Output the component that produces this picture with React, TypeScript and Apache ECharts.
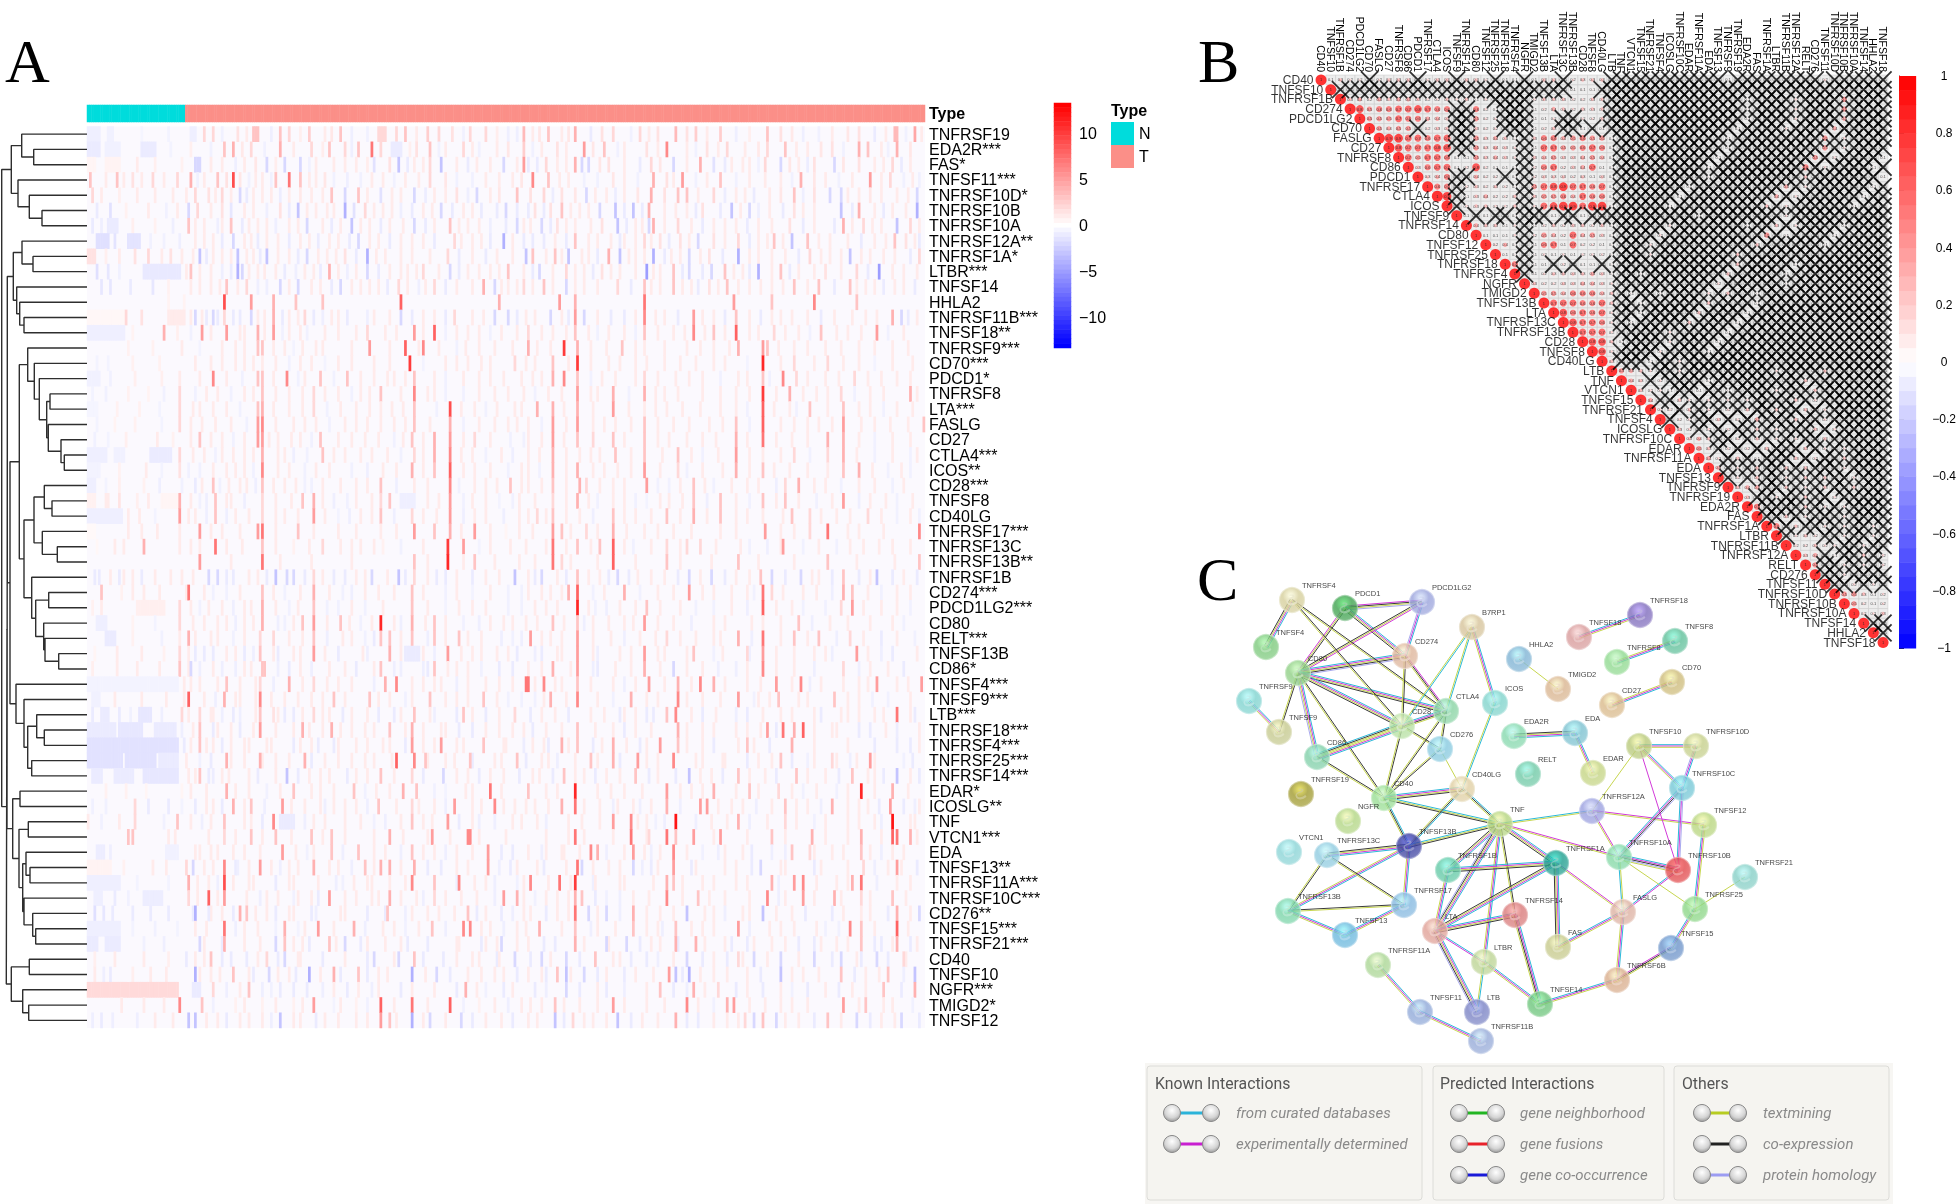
import React, { useEffect, useRef } from "react";
import * as echarts from "echarts";

const geneLabels = ["TNFRSF19","EDA2R***","FAS*","TNFSF11***","TNFRSF10D*","TNFRSF10B","TNFRSF10A","TNFRSF12A**","TNFRSF1A*","LTBR***","TNFSF14","HHLA2","TNFRSF11B***","TNFSF18**","TNFRSF9***","CD70***","PDCD1*","TNFRSF8","LTA***","FASLG","CD27","CTLA4***","ICOS**","CD28***","TNFSF8","CD40LG","TNFRSF17***","TNFRSF13C","TNFRSF13B**","TNFRSF1B","CD274***","PDCD1LG2***","CD80","RELT***","TNFSF13B","CD86*","TNFSF4***","TNFSF9***","LTB***","TNFRSF18***","TNFRSF4***","TNFRSF25***","TNFRSF14***","EDAR*","ICOSLG**","TNF","VTCN1***","EDA","TNFSF13**","TNFRSF11A***","TNFRSF10C***","CD276**","TNFSF15***","TNFRSF21***","CD40","TNFSF10","NGFR***","TMIGD2*","TNFSF12"];
const normalCount = 44;
const tumorCount = 331;

// Visible stripes per heat-map row: "column:value" or "from-to:value".
const heatStripes = [
"0-5:-0.8 9-11:-0.7 24:-0.5 36:-0.6 46-48:-0.8 52:2 56:2 67:1.5 74-76:3 86:3 90:2 99:2.5 106:1 113:3 118:-0.8 130-133:2 138:2 142:3 152:2.5 157:2 163:1.5 171:2 178:2 188:-0.8 195:3.5 199:1 206:3 212:1 218:4 225:-1 230:1.5 235:2 247:2 255:1.5 263:3.5 268:1.5 272:2.5 283:2.5 290:-0.8 304:3 310:1.5 320:-0.8 333:1 345:1.5 352:-1 361-362:3.5 370:4.5 373:1",
"0-5:-1 8-14:-0.7 24-30:-1 37:-0.6 61:3 65:4 73:2 86:4 100:2 108:3 115:2 121:3 127:7 131:2 136-140:-1 147:1.5 153:3 160:1 168:2 175:-0.7 183:1 195:2.5 203:1 210:1.5 222:5 231:3 240:1 250:1.5 259:6 268:1 277:1.5 286:2 294:1 304:2 312:3 322:1 333:1.5 345:4 349:3 355:1 362:4",
"0-3:0.5 8-14:0.6 22:1 30:0.8 48-50:-2 60:1 70:1 80:-2 88:-2 95:-2 102:1 110:1 120:1 128:-1.5 135:1.5 139:-3 146:1 153:2 158:-3 165:1 174:1 186:-2 192:1 195:5 197:-1 205:2 210:1 218:4 221:-2 224:-2 233:1.5 240:1 252:2 262:-2 268:1 274:4 280:-1.5 288:1 296:1 303:2 310:-2 318:1 325:1.5 334:-2 345:1.5 352:1 360:2 368:1",
"1:3 8:1 13:3 16:1 20:1.5 24:1 29:2 34:1 40:2 46:4 52:1 58:3 62:1.5 65:9 72:-0.7 78:1 84:3 90:7 95:3 102:1 110:-0.7 122:-0.7 132:1 142:1 153:2 165:-0.7 178:1 190:1 199:6 206:3 215:1 228:-0.7 240:1 253:4 259:1.5 266:5 272:-0.7 283:3 296:1 310:1 319:4 330:1 342:1 350:5 359:2 365:-0.7 372:-0.7",
"2:2 6:1 14:0.8 22:1 30:1 38:1 44:1 48:2 54:1.5 60:2 64:1 68:-2 74:1 82:1 90:1 100:1 109:3 115:-2 121:3 131:-1.5 140:1 146:-2 155:1 165:1.5 174:-2 180:1 192:3 198:1.5 204:2 212:1.5 223:-2 232:1 240:1 252:4 258:1.5 264:3 268:3 280:2 290:1 298:-1 305:1 316:3 325:1.5 332:-2 337:-2 345:1 355:1 362:1 371:-2",
"4:-1 10:-1.5 17:0.7 27:1 35:-0.7 45:-2 49:2 55:1 60:1.5 70:1 80:-0.8 86:1.5 94:-3 102:1 110:1 115:-4 124:2 132:1 140:-0.8 150:1 158:-2 168:1 176:-1 187:-2 192:-1 200:1.5 207:1.5 212:3 220:1 229:-2 236:-3 244:-3 251:4 258:1 268:1 275:1.5 288:-3 296:-2 305:1 316:1.5 325:1 337:-3 345:4 352:1 360:1 371:-4",
"2:-1 6:-0.8 9-13:-1 20:0.8 30:0.7 38:-0.8 45:3 52:1 58:-0.8 64:3 72:1 80:1 90:1 98:-2 105:1 118:-3 126:1 135:1 146:-2 155:1 162:3 170:1 180:-0.8 192:-2 198:1 203:-2 210:1.5 218:1 230:1.5 237:-3 245:1 251:-2 253:4 264:2 270:1 280:1 290:1 300:1 314:1.5 325:1 338:4 347:2 355:1 362:-3 368:2",
"4-9:-1.6 12:-1.4 18-23:-1.4 28:-0.7 34:-0.7 41:-0.8 48:1 56:1 65:-2 70:1 76:-1 85:1 95:1 103:-1 112:1 121:-2 130:1 140:1 150:1 164:2 172:1 180:-1 186:-4 190:1 195:-1 204:-1 218:3 224:1 234:1 240:1 249:2 256:1.5 265:1.5 273:-2 280:1.5 291:2 300:1 307:3 315:-3 322:3 332:1 346:-1 352:1 361:3 366:1.5 372:-1",
"0-3:1.5 8:0.8 14:1 21:1.5 27:2 33:1 37:1.5 42:1 50:-3 56:1 60:1 67:-3 74:1 80:-3 90:1 98:-2 107:1 115:1.5 125:-4 133:1 145:1 161:2 172:1 183:1 196:-3 199:3 209:3 215:-3 224:1 233:4 238:-3 245:1 253:-4 261:1 269:-2 278:1.5 291:-4 300:1 312:1 323:2 332:1 341:-3 350:1 361:1 372:2",
"4:-1.6 9:-1.2 14:-0.7 25-41:-1.1 46:3 55:1 60:-0.8 67:-4 69:-2 76:1 84:1 93:-0.8 101:1 108:4 116:-0.8 125:-2 135:1 143:1 150:2 162:-2 170:1 180:1 188:3 195:1 202:-2 214:2 222:1 230:1.5 238:1 250:-5 256:1 262:3 269:-2 279:-2 285:3 293:1 300:-4 310:3 318:1 330:1.5 344:2 354:-5 365:1",
"6:-1.2 10:-1.2 19:-1 29:-1.2 36:0.7 46:1 55:1 62:3 71:2 80:-0.8 86:-2 94:-2 104:1 113:-2 122:1 130:1 139:2 148:-0.8 155:2 165:1 177:4 182:-2 188:1 195:2 204:3 214:-2 222:1 237:2 249:3 256:1 262:3 270:1 278:1.5 286:3 296:1 306:1 316:3 327:3 341:3 348:1 356:-1 365:1",
"36:0.6 43:0.6 61:9 73:5 83:4 93:3 105:3 140:8 184:4 211:5 218:4 249:7 289:5 306:3 325:6 344:3",
"0-16:0.4 17:2 24:1.5 36-43:1 48:-2 53:-1 56:-2 61:2 65:-1 73:-2 79:1 83:4 90:1 97:2 105:-0.8 112:1 125:-0.8 140:-2 150:1 164:2 172:1 182:-2 188:-2 196:1 207:-2 212:1 218:5 222:-2 234:-1 249:6 258:1 271:5 280:1 290:3 301:-1 310:1 322:1 334:1 348:1 360:4 364:-2 371:1",
"0-16:-0.8 20:0.6 34:4 40:0.8 51:5 62:5 70:1 76:4 83:5 90:1 98:-0.7 112:1 125:2 133:1 146:5 155:8 165:1 175:1 185:1 197:2 208:1 218:3 228:-0.7 240:1 249:3 262:1 271:6 280:3 290:8 300:1 307:2 318:1 328:3 340:1 353:5 365:1",
"18:0.7 29:0.7 42:1 60:1 70:1 76:3 78:3 88:1 96:1 105:1 126:5 142:8 150:6 157:1 169:1 182:1 197:4 207:1 213:10 219:4 239:3 249:1 268:1 280:1 291:4 302:5 304:3 316:1 330:1 345:1 360:1",
"4:-0.6 9:-0.6 20:0.7 32:0.7 48:1 60:1 70:1 78:1 90:-0.7 100:1 112:1 128:1 144:10 160:1 170:1 180:1 191:2 200:1 208:3 219:10 238:1 250:1 265:1 280:1 302:11 316:2 331:2 345:1 360:1",
"0-5:-0.7 10:-0.7 21:0.8 33:0.8 41:1 56:6 62:1 76:3 78:3 89:6 94:-0.7 104:3 116:3 128:1 137:1 146:3 155:1 168:1 180:1 194:1 203:1 208:4 213:6 219:3 230:1 249:2 263:1 275:1 291:1 302:3 311:6 317:2 330:1 343:2 355:1 368:1",
"2:-0.6 8:-0.7 18:0.7 27:0.6 34:-0.7 41:2 48:-0.7 58:1 70:1 78:3 90:1 101:2 112:1 122:1 131:3 146:6 155:1 168:-0.7 182:1 195:1 206:1 219:5 228:1 235:4 249:4 258:1 275:1 290:1 302:10 314:4 326:1 337:2 350:1 368:4",
"0-4:-0.5 13:0.7 23:0.7 32:-0.6 41:2 50:1 62:1 76:3 78:4 90:1 101:2 113:1 126:1 136:1 146:3 162:9 173:1 183:1 191:1 201:4 208:4 219:4 235:5 249:1 259:1 274:1 290:1 302:8 314:1 323:3 338:3 350:1 362:1",
"4:-0.6 12:0.6 21:0.7 33:-0.6 41:2 51:1 64:1 76:5 78:6 92:1 102:1 115:1 125:1 137:1 146:3 162:4 175:1 188:1 197:1 208:5 219:5 226:1 236:1 249:3 262:1 278:1 290:3 302:8 316:1 327:1 338:5 352:1 367:1 374:3",
"3:-0.7 9:-0.6 17:0.8 31:1 38:0.7 50:3 60:1 70:1 76:5 78:5 85:1 95:1 104:3 112:1 124:1 137:-0.7 145:3 155:4 162:5 173:2 189:-0.7 197:1 208:5 219:3 226:2 235:3 249:3 260:1 275:1 290:4 302:7 315:1 331:4 338:4 352:-0.7 368:1",
"0-8:-0.8 12-16:-0.7 28-37:-1 41:2 52:1 60:1 70:1 78:4 85:1 92:-0.8 105:3 115:1 127:1 140:-0.7 146:2 155:4 162:6 172:1 190:-0.8 197:1 208:4 220:1 229:1 236:3 249:3 264:3 275:-0.7 290:5 302:1 316:2 331:2 338:4 352:-0.7 368:-0.7",
"0-5:-0.6 14:0.7 26:1 33:-0.6 41:1.5 50:-0.7 62:1 70:1 78:6 90:1 102:1 118:-0.7 132:1 145:4 155:3 162:8 173:1 188:-0.7 197:1 208:4 219:4 226:1 237:1 249:5 264:2 275:1 290:4 302:3 314:1 338:3 345:4 358:-0.7 368:-0.7",
"0-3:-0.8 8:-0.6 14:0.8 25:0.7 32:-0.8 42:-0.7 48:-1 56:3 63:1 71:1 78:3 88:1 97:-0.7 105:1 120:1 131:3 146:1 162:6 173:1 183:1 189:3 197:1 208:3 220:4 223:2 235:1 250:5 260:-0.7 271:3 280:-0.7 295:1 312:2 318:4 330:1 345:1 360:-0.7",
"0-3:0.7 8-9:1 14:1.4 22:0.8 27:1 33-40:0.5 41:4 50:-0.7 57:3 64:1 78:2 96:3 101:4 110:-0.8 120:1 131:2 135:3 140-146:-0.8 162:5 172:1 184:-0.6 193:1 208:2 219:4 228:-0.7 240:1 250:-0.6 260:1 271:3 283:3 302:3 312:3 326:-0.7 338:5 350:1 362:-0.7",
"0-15:-0.8 18:1 23:1 30:-0.6 41:5 48:1 57:3 66:1 78:2 88:1 101:5 112:-0.6 122:1 131:3 145:2 162:5 173:1 186:-0.8 193:1 201:2 208:3 220:1 235:3 245:1 259:3 271:4 283:3 295:1 315:3 323:2 335:1 349:2 362:-0.7 372:-0.7",
"0-3:0.3 18:1 24:1 31:1 41:1 50:5 60:1 76:5 78:7 94:3 101:1 112:1 131:1 146:5 155:3 162:4 173:5 187:0.5 199:1 208:5 212:3 223:2 235:4 249:1 262:1 283:1 303:5 323:2 331:7 340:1 372:6",
"4:0.4 12:1 16:1 25:4 41:1 50:1 57:7 62:1 78:3 92:0.7 105:2 113:1 122:1 132:0.7 140:-0.7 161:10 168:5 175:-0.6 189:1 196:1 208:7 219:3 229:3 235:8 244:-0.7 259:2 268:2 274:2 296:-0.7 304:-0.8 311:5 320:-0.7 335:-0.7 347:1 360:1",
"50:5 78:7 146:3 161:11 173:3 193:1 208:7 212:2 235:8 259:3 291:3 331:3 372:3",
"3:-1 5:-1 10:1 16:1 24:-1 30:1 37:1 47:1 54:-2 58:-2 65:-1 72:1 80:-1 84:-3 89:-2 92:-2 101:2 110:-1 120:1 127:-2 134:1 139:-3 146:2 156:-1 165:1 178:1 191:-3 197:1 203:-2 210:1 219:3 229:1 237:-2 246:1 258:1 269:-2 279:-2 290:1 301:3 306:-2 319:-2 327:1 338:3 345:-1 353:-3 365:1",
"6:3 15:0.7 20:1 25:1 32:1 45:7 52:1 62:-0.7 78:3 88:-0.7 101:4 114:-0.7 124:1 137:1 145:3 160:-0.7 172:-0.6 188:-0.7 197:1 207:1 215:4 219:8 226:-0.7 240:4 255:1 269:5 280:1 295:1 302:7 306:2 320:1 338:4 342:3 355:-0.7 368:1",
"2:0.7 6:1 22-34:0.8 41:2 50:-0.7 60:1 70:1 78:4 90:-0.7 101:3 112:-0.7 124:-0.7 145:3 160:-0.6 172:1 188:-0.7 200:1 210:1 219:11 227:-0.7 238:1 250:3 265:1 280:-0.7 302:8 315:1 330:-0.7 337:2 342:5 355:1 368:-0.7",
"4-8:-0.8 20:0.6 30:-0.6 41:2 52:1 62:1 70:1 78:4 88:-0.7 96:3 101:5 113:3 122:-0.7 131:11 137:1 145:4 155:3 168:-0.7 180:1 190:1 201:1 208:3 219:3 226:1 240:1 249:5 262:1 280:1 302:1 318:3 340:1 365:-0.7",
"8-12:-1 20:0.7 33:-0.7 41:1 45:4 58:1 65:-0.7 77:2 83:2 90:1 101:3 114:1 124:-0.7 131:3 135:3 145:3 155:3 166:3 176:1 190:-0.7 198:5 207:1 219:5 234:1 247:1 259:2 265:1 280:1 291:4 302:7 316:3 327:3 341:2 355:-1 370:-0.7",
"3:0.5 13:1 24:1 34:0.7 41:2 48:-1 52:-1 62:1 70:-1 77:3 85:-1 92:1 101:5 112:-1 123:1 135:4 142-148:-1 161:5 172:1 183:1 192:-1 200:-0.8 210:1 219:5 228:-0.8 238:1 249:5 258:1 271:3 280:-0.7 295:2 302:5 316:1 330:1 344:5 355:-0.8 371:1",
"2:0.8 13:1 22:1 32:1 41:3 46:-2 50:-0.8 60:-0.8 70:1 78:3 79:3 90:-1 100:-0.8 115:1 131:3 137:-0.8 150:-0.8 155:3 165:1 176:-0.7 190:-1 197:1 208:4 219:5 228:-1 236:1 249:4 262:-2 275:1 290:-0.8 302:6 316:1 338:2 350:1 365:-1",
"0-40:-0.6 43:1 50:1 62:3 68:1 77:2 90:4 101:2 112:1 133:4 138:6 150:1 158:1 170:1 184:1 196:7 197:7 204:6 212:1 219:3 235:1 251:5 264:4 274:6 280:4 295:1 308:5 319:6 328:1 345:1 353:5 362:1 373:5",
"2-5:-0.7 12:1 24:1 35:1 45:8 52:1 61:4 68:1 77:6 88:1 100:1 110:3 126:3 135:1 145:1 153:3 165:1 177:3 188:-0.7 200:-0.7 207:4 214:1 219:6 228:1 243:4 255:1 264:6 275:1 291:5 300:1 309:3 318:1 334:3 345:1 358:-0.7",
"2:-1 6-9:-1 14:-1 19:-0.7 23-28:-1.2 33:-0.8 42:2 50:2 55:1 60:-0.8 68:-0.8 77:3 83:1.5 88:-1 96:1 101:2 108:1 118:1 130:-1 137:-1 146:3 155:-0.8 168:3 178:-1 191:2 203:1 215:-1 225:1 240:1 250:-1 259:3 263:6 275:-1 290:-0.8 310:1 325:1 340:1 352:1 362:7 368:1",
"0-12:-1 14-24:-1.2 30-39:-1 42:-0.8 50:3 58:1 68:-1 77:5 84:1 92:1 96:4 105:1 109:4 118:1 128:1 135:3 145:4 150:1 160:1 172:-1 184:1 195:1 205:1 219:3 235:1 245:1 264:4 275:1 295:1 304:5 311:7 316:4 320:8 335:1 350:-1 362:-0.9",
"0-40:-1.5 43:-1 50:3 56:1 64:1 72:1 82:1 95:1 103:-1 112:1 120:1 135:1 145:5 150:1 158:5 168:1 177:3 187:1 195:-0.9 204:1 212:4 219:3 230:1 235:4 247:-1 256:5 264:3 275:1 295:3 305:-1 315:4 325:1 340:1 352:-1 362:-1 372:1",
"0-15:-1.5 17-30:-1.5 32-40:-1 50:-0.7 62:4 70:1 77:4 84:1 97:4 106:1 118:1 128:1 138:8 146:6 151:3 160:1 171:3 182:1 192:3 203:1 210:-0.8 225:3 235:4 246:5 255:1 262:6 272:1 285:1 300:1 310:3 322:-0.7 333:2 341:-0.8 350:5 365:-0.7",
"2-6:-1 12-20:-1 25-40:-1.2 48:1 50:3 56:-0.9 63:1 72:1 89:-3 99:1 108:1 120:1 131:3 145:2 159:-2 170:1 180:1 193:-1 202:1 213:3 222:1 232:1 245:3 255:1 269:-3 279:1 291:3 303:1 317:3 330:1 342:3 352:1 362:-3 372:-1",
"8:0.7 17:0.7 26:0.5 42:0.5 62:4 72:1 80:-0.7 92:3 104:1 119:3 129:1 141:4 147:3 160:-0.6 172:1 180:7 197:3 205:1 218:11 228:1 240:1 259:5 270:1 280:4 296:3 309:2 320:-0.7 335:-0.7 346:11 360:4",
"2:-0.7 8:-0.7 21:2 27:-1 36:-1 42:-0.6 48:-1 56:1 65:4 73:3 87:5 97:1 104:1 110:1 120:1 130:3 145:2 155:1 164:5 172:1 182:6 191:1 200:1 212:4 218:7 229:1 237:1 247:-0.8 259:4 274:5 277:5 288:1 299:-0.8 312:3 322:1 333:4 345:1 354:-1 359:5 365:-1 372:1",
"0:1 6:-0.7 14:1 21:2 34:-0.7 40:3 46:1 61:3 70:1 83:6 86-92:-1 101:1 115:1 128:-0.7 145:3 154:1 161:5 175:-0.8 190:1 201:1 215:1 235:5 243:6 254:-0.7 263:12 272:-0.8 291:4 312:2 325:-0.7 340:1 352:1 360:12 368:1",
"18:3 20:3 36:1 39:1 61:2 73:3 84:3 100:3 109:3 135:4 154:5 170:6 171:6 218:7 243:7 251:2 259:7 263:3 271:5 283:5 306:3 324:4 346:4 360:8 362:7 368:4",
"4-7:-0.9 10:-0.8 35-40:-0.7 48:1 55:1 65:1 70:1 77:1 87:5 93:1 98:-0.7 109:3 121:3 133:1 145:3 155:1 165:1 179:5 190:-1 197:1 205:1 213:1 225:6 228:4 244:5 252:-0.8 262:6 275:-0.7 285:1 297:-1 306:-0.8 315:3 323:2 333:1 346:3 355:-0.8 365:1",
"0-10:0.6 16:0.7 29:1 35:1 44:2 47:-2 52:1 61:6 67:-0.8 77:5 86:-0.8 94:1 101:4 112:1 124:3 131:4 135:4 146:4 152:-1 165:1 179:5 189:-1 201:1 219:7 221:-2 233:1 244:-2 252:-1 262:5 272:1 290:1 301:-2 312:1 328:1 347:2 358:1 362:5 371:-1",
"0-14:-0.8 22:-0.6 36:-0.6 45:4 54:1 61:9 72:1 90:1 103:1 114:-0.7 125:1 135:1 145:6 155:3 166:6 178:1 192:-0.7 198:6 211:7 218:10 227:1 240:1 259:4 262:3 275:1 290:1 306:4 316:5 320:6 335:1 342:4 346:7 362:1",
"3-6:-0.8 12:-1 18:-0.7 25-33:-0.9 45:2 54:8 61:5 71:1 80:1 92:-0.7 100:1 108:5 120:1 130:1 135:4 147:1 155:2 167:1 186:5 192:4 200:-0.7 210:1 218:4 221:3 232:-0.7 244:1 259:6 273:3 285:1 304:6 312:1 320:5 334:4 346:2 360:3",
"3:-1.6 7:-1.2 11:-1 20:-1 28:-1 36:-1 48:-4 54:-1 60:1 68:4 71:3 80:1 90:1 100:-1 113:1 125:-1 134:3 145:1 157:1 170:3 174:-1 185:-1 198:1 210:1 218:7 224:-2 232:-2 244:4 256:1 268:-3 280:1 293:1 302:-3 315:1 333:-1 346:1 362:4 372:-2",
"0-14:-0.8 20:-0.6 30:-0.7 40:-0.6 48:1 61:7 70:1 88:4 94:-0.6 103:5 119:4 132:1 142:-0.7 154:3 168:6 171:6 180:1 192:1 202:4 218:3 228:1 244:3 255:1 263:3 275:1 291:5 305:1 316:1 330:-0.7 341:6 346:3 362:8",
"0-4:-1 8-14:-1 25:-0.7 34:-0.8 50:-2 61:4 70:1 84:-2 88:3 96:1 108:3 115:-2 125:1 140:1 152:-1 165:1 178:1 185:-2 192:1 204:-1 218:4 232:-2 241:-2 252:1 263:4 272:4 288:-1 298:1 312:1 325:-1 335:1 346:3 355:-1 362:4 368:-1",
"3:0.8 12:1 25:1 36:0.8 48:1 55:3 64:-1 71:-1 80:2 88:-2 95:1 105:-1 115:1 128:-2 139:-2 146:3 159:-1 172:1 184:1 191:-2 203:-2 214:-2 227:3 235:1 243:-1 255:-0.8 268:-2 280:1 291:2 298:-2 310:-2 325:-2 337:-2 346:-1 353:-2 365:2",
"3:1 7:-0.8 10:-1 20:0.8 28:1 35:1 48:-4 55:1 65:3 72:1 81:-2 90:1 99:-4 110:4 121:3 130:1 145:-4 156:-2 170:1 182:1 192:-1 203:1 210:3 214:-3 222:-2 232:1 245:1 260:5 263:-3 269:-4 280:1 295:1 310:-3 320:1 337:3 348:1 358:3 370:-3",
"0-40:1.9 47-50:-1 56:2 62:-0.8 72:3 82:-0.7 86:-1 98:-1 110:1 116:-1 130:1 140:-1 155:1 169:4 178:-0.7 190:1 200:-1 214:-2 228:1 240:-0.8 256:3 262:-1 271:4 282:2 295:1 302:-1 315:-0.7 330:1 342:1 356:3 370:4",
"15:1 25:1 34:1 41:6 51:3 66:0.7 78:0.7 92:0.7 101:5 110:-0.6 120:0.7 131:8 145:7 162:8 175:0.7 188:-0.8 198:1 209:3 220:1 235:5 250:1 268:6 280:-0.7 286:4 289:5 303:1 315:1 338:5 348:3 360:1",
"2:-0.8 6:-1 11:-0.8 22:-0.8 30:1 38:1 45:-3 48:-3 58:1 68:1 78:1 86:-3 95:1 106:1 120:1 131:5 135:3 145:-4 153:-2 167:-2 178:1 190:-1 197:1 209:-3 217:2 226:1 237:-3 248:1 263:4 268:-1 280:1 294:2 298:-2 302:3 308:-2 318:1 331:3 344:-2 355:1 364:-2 372:-1"
];
// Fainter wash between the stripes, one short list per row, estimated by eye.
const heatWash = [
"48:0.9 60:-0.7 71:1 82:-0.8 95:0.8 109:1.2 125:-0.7 147:1 168:-0.7 183:0.9 192:-0.8 202:1.2 215:1.2 243:-0.7 251:1 277:1 296:0.8 315:1.1 327:-0.7 340:1.2 357:1 366:-0.7",
"46:0.8 55:-0.7 69:1.1 79:-0.7 92:1 105:0.9 118:-0.8 144:0.8 157:-0.7 172:1 188:1.2 199:-0.7 214:1 226:1.2 237:-0.7 255:1 272:-0.7 282:1 300:1.1 317:1 328:1.2 338:-0.7 358:-0.7 368:1.2",
"42:0.7 55:1 66:-0.8 75:1.2 84:0.9 99:-0.7 115:1 125:0.9 143:-1 150:1 170:-1 180:1 201:-1 214:1 229:1.2 247:-1 256:1.2 285:-1 293:1 300:-0.7 314:1.2 322:-0.9 338:1.2 356:1 364:-1",
"49:-0.7 68:1.2 75:1 82:-0.7 99:1 106:1.2 116:-0.8 127:1 137:-0.7 148:1 160:1.2 172:-0.7 184:1 194:1.2 211:1 222:-0.7 235:1.2 246:-0.7 262:1 277:1 290:-0.7 303:1 315:-0.7 325:1.2 336:-0.7 355:1 369:1",
"57:1 71:-1 78:1 86:-0.9 95:1.1 105:1 125:1 136:1 151:-0.9 160:1 170:-0.8 184:1.2 208:-0.9 218:1.2 227:1 236:-0.9 246:1.2 273:1 285:-0.9 294:1 310:1.2 320:-0.8 340:1 350:1.2 367:1",
"40:1 64:-1.2 74:1 90:-1 98:1 107:1 119:-1.5 128:1 136:1 145:-1 154:1 163:-1 172:1 183:-1 197:-1 204:-1 216:1 224:1 240:-1 248:-1 263:1 272:-1 283:-1 292:1 300:-0.8 311:-1 320:1 342:-1 356:-1 366:1",
"48:1 60:1 69:-1 76:1 84:-0.8 94:1 109:-1 113:1 122:1 131:-1 141:1 151:-1 166:1 175:1 187:-1 195:1 207:-1 214:1 225:1 241:-1 248:1 258:1 275:-1 285:1 295:-1 306:1 320:-1 334:-1 342:1 351:1 372:1",
"52:1 60:-1 73:1 80:1 90:-1 99:1 108:1 117:-1 126:1 135:-1 145:1 155:-1 167:1 176:1 199:-1 209:1 214:-1 228:1 238:-1 245:1 252:1 260:-1 269:1 285:1 296:-1 304:1 311:1 327:1 340:1 357:1 370:1",
"47:1 53:-1 64:1 71:1 77:-1 85:1 94:-1 103:1 111:1 120:-1 129:1 140:1 153:1 166:-1 178:-1 190:1 205:1 212:1 221:1 228:-1 242:1 249:1 258:-1 265:1 274:1 284:-1 296:1 306:1 318:-1 328:1 337:1 346:1 356:1 368:-1",
"44:1 50:1 64:-1 72:1 79:1 88:-1 97:1 104:-1 112:1 120:1 130:-1 140:1 147:1 157:1 166:-1 175:1 184:1 199:-1 208:1 218:1 226:-1 234:1 245:1 253:1 266:-1 275:-1 289:1 296:-1 306:1 314:-1 325:1 337:1 349:-1 360:1 371:1",
"50:1 59:1 67:1 76:-0.8 90:1 100:1 109:-1 118:1 126:1 134:-1 143:1 151:1 160:-1 172:1 185:1 192:1 199:1 208:1 218:1 228:1 243:-1 252:1 266:1 273:-1 282:1 291:1 301:1 311:1 322:1 334:-1 344:1 352:1 361:1 370:-1",
"",
"46:1 51:1 58:-1 68:-1 76:1 87:-1 94:1 101:-1 109:1 116:-1 128:1 135:1 145:-1 155:1 160:-1 177:1 192:-1 200:1 215:-1 228:1 240:-1 245:1 254:1 264:-1 275:1 285:-1 296:1 306:1 315:1 328:-1 342:1 353:1 367:-1",
"46:-0.7 55:1 68:1 79:1 87:-0.7 95:1 106:1 120:1 138:1 150:1 160:-0.7 170:1 180:-0.7 192:1 203:1 214:1 224:1 233:1 245:-0.7 255:1 267:1 276:1 285:1 296:1 312:1 323:-0.7 335:1 346:1 358:-0.7",
"50:-0.6 66:1 83:1 92:-0.6 102:1 118:1 135:1 148:1 165:-0.7 175:1 190:1 201:1 225:1 232:1 245:1 258:1 274:1 287:1 309:1 322:1 337:1 352:1 367:1",
"55:1 66:1 74:1 84:1 95:1 106:-0.6 118:1 135:1 150:-0.6 165:1 176:1 196:1 215:1 225:1 233:1 245:1 258:1 272:1 285:1 295:-0.6 310:1 325:1 338:1 352:-0.6 369:1",
"50:1 69:-0.7 83:1 97:1 110:-0.7 122:1 134:1 142:1 160:-0.7 175:1 186:1 199:1 225:-0.7 236:1 245:1 255:1 269:1 283:-0.7 295:1 305:-0.7 322:1 336:1 349:1 362:1",
"53:1 64:-0.7 74:1 84:1 96:1 106:1 118:-0.7 126:1 140:1 152:1 160:-0.7 175:1 188:1 200:-0.7 212:1 225:1 242:-0.7 254:1 264:1 283:1 296:1 308:1 320:1 331:1 343:-0.7 356:1 371:1",
"47:1 56:1 68:-0.7 83:1 96:1 107:-0.7 120:1 131:1 141:1 156:-0.7 167:1 178:-0.7 194:1 213:1 226:1 242:1 254:1 266:1 283:1 295:-0.7 307:1 317:-0.7 331:1 345:1 356:-0.7 369:1",
"46:1 57:1 71:-0.7 84:1 97:1 108:-0.7 120:1 131:1 142:1 153:1 168:-0.7 182:1 192:1 203:-0.7 214:1 231:1 243:1 255:1 269:1 284:1 296:-0.7 310:1 322:1 333:1 346:1 359:1",
"46:1 55:1 65:-0.7 81:1 91:1 100:-0.7 118:1 130:1 141:1 150:1 168:1 180:1 195:-0.7 203:1 213:1 240:1 255:1 268:1 281:1 295:1 308:1 322:1 345:1 360:1",
"47:1 57:-0.7 65:1 74:1 88:1 98:-0.7 110:1 122:1 134:1 150:1 167:1 178:-0.7 185:1 202:1 214:1 225:1 243:1 257:1 270:1 282:1 296:1 310:1 323:-0.7 344:1 360:1 371:1",
"45:-0.7 56:1 66:1 74:-0.7 85:1 97:-0.7 108:1 125:-0.8 138:1 150:1 168:1 180:1 194:1 202:-0.7 214:1 231:1 243:1 256:1 268:-0.7 284:1 296:1 307:1 322:1 331:1 351:1 364:1",
"51:1 59:-0.7 68:1 75:-0.8 83:1 93:1 100:-0.7 113:1 125:1 138:-0.8 152:1 166:-0.7 178:1 194:1 203:1 214:1 229:1 240:1 255:-0.7 265:1 276:1 288:1 300:1 308:-0.8 325:1 337:-0.7 352:1 365:1",
"46:1 53:-0.8 62:1 70:-0.8 84:1 91:1 105:1 116:-0.7 127:1 152:1 157:1 168:-0.7 178:1 190:-0.7 200:1 214:1 224:1 235:1 245:-0.7 256:1 266:1 277:-0.8 290:1 296:-0.7 308:1 318:1 333:1 345:-0.8 357:1 369:1",
"45:1 53:-0.8 62:-0.8 72:1 84:1 94:1 106:1 117:-0.8 127:1 137:-0.8 150:1 156:1 168:-0.8 178:1 197:1 205:1 214:1 226:-0.8 240:1 252:1 265:1 277:1 290:1 302:1 311:1 328:1 341:1 355:1 368:1",
"55:1 68:1 84:1 120:1 138:1 167:1 180:1 193:1 216:1 228:1 241:1 255:1 270:1 290:1 310:1 316:1 345:1 356:1",
"46:1 69:1 84:1 99:1 118:1 128:1 150:1 180:1 205:1 214:1 225:1 240:1 252:1 265:1 281:1 292:1 310:1 327:1 341:1 354:1 368:1",
"64:1 86:1 100:1 118:1 152:1 168:1 182:1 200:1 216:1 228:1 245:1 265:1 279:1 300:1 316:1 344:1 361:1",
"14:-1 20:1 42:1 62:-1 76:1 97:-1 105:1 115:-1 124:1 142:-1 152:1 160:-1 172:-1 184:1 200:-1 214:-1 224:1 233:-1 242:-1 252:1 264:-1 274:1 285:-1 296:1 312:-1 324:1 333:-1 350:1 360:-1 371:-1",
"44:1 56:-0.7 68:1 83:1 95:1 108:1 118:-0.8 130:1 150:1 165:1 180:1 194:-0.7 203:1 212:1 231:1 247:-0.7 262:1 275:1 288:1 298:-0.7 311:1 326:1 333:-0.8 349:1 362:1",
"46:1 54:1 65:-0.8 73:1 84:1 94:1 107:-0.7 118:1 132:1 152:1 166:1 178:1 194:-0.7 205:1 224:1 232:-0.8 245:1 256:1 272:-0.7 288:1 295:-0.8 308:1 320:-0.7 347:1 362:1",
"47:1 58:1 66:-0.8 74:1 85:-0.8 92:1 107:1 117:1 127:1 140:-0.8 151:1 160:1 175:-0.8 186:1 196:1 213:1 222:-0.8 233:1 244:1 255:1 270:-0.8 285:1 297:1 310:1 324:-0.8 332:1 350:1 360:1",
"48:1 55:1 70:1 96:1 107:-0.8 118:1 128:-1 140:1 152:-0.8 160:1 170:1 185:-0.8 194:-0.8 203:1 212:1 226:1 240:-0.8 254:1 272:1 283:1 297:-0.8 310:1 322:1 335:-0.8 347:1 362:1",
"45:1 56:-1 66:1 74:-0.8 83:1 95:1 106:1 125:-0.8 140:1 150:1 155:-0.8 167:1 176:1 188:1 203:-1 212:1 226:1 243:1 255:1 268:1 284:1 296:-0.8 308:1 325:1 333:-0.8 349:1 360:-1",
"45:1 56:1 66:-0.8 73:1 85:-0.8 95:1 108:1 120:-1 128:1 140:-0.8 152:-1 161:1 170:1 184:-1 203:1 216:1 226:-0.8 243:1 256:1 268:1 282:-0.8 295:1 308:1 325:-0.8 345:-0.8 358:1",
"46:1 58:1 75:1 83:-0.8 96:1 107:1 118:1 128:-0.8 145:1 155:1 165:-0.8 178:1 190:1 200:1 209:1 225:1 240:-0.8 245:1 258:1 270:1 285:1 301:1 315:1 323:-0.8 338:1 349:1 367:1",
"43:1 57:-0.8 66:1 75:1 82:1 94:1 105:1 115:1 130:1 142:-0.7 160:1 170:1 183:1 194:-0.7 204:1 235:-0.7 250:1 268:1 283:1 298:-0.7 305:1 322:1 340:1 351:-0.7 368:1",
"45:1 56:1 65:-1 75:1 85:1 92:-1 105:1 114:-1 125:1 140:1 153:1 165:-1 172:1 184:1 198:-1 209:1 231:1 238:-1 245:1 253:-1 270:1 281:1 295:-1 302:1 315:1 328:-1 337:1 345:1 356:1 370:-1",
"47:1 56:-1 64:1 74:1 84:1 99:1 113:1 124:1 135:-1 142:1 158:1 166:-1 178:1 190:1 199:-1 212:1 227:1 240:-1 252:1 268:1 280:1 290:1 301:1 308:-1 325:1 333:1 345:-1 357:1 372:1",
"46:1 53:1 60:-1 70:1 80:1 92:-1 100:1 110:-1 125:1 132:1 142:-1 155:1 165:1 177:-1 186:1 199:1 206:-1 215:1 226:-1 241:1 250:1 268:1 280:-1 291:1 298:1 315:-1 325:1 340:1 352:1 368:-1",
"44:1 55:-1 64:1 78:1 90:1 100:-1 112:1 124:1 136:1 152:1 164:1 172:-1 185:1 196:-1 206:1 218:1 228:1 238:-1 250:1 262:1 275:1 284:1 295:-1 306:1 315:-1 325:1 335:1 344:1 352:1 369:-1",
"45:1 54:-1 60:1 76:-1 84:1 94:-1 104:1 116:-1 125:1 137:1 150:-1 165:1 175:-1 186:1 199:1 208:-1 218:1 227:-1 238:1 251:-1 263:-1 274:1 284:-1 296:1 308:-1 322:1 336:-1 349:1 356:-1 368:1",
"46:1 53:1 66:1 86:1 100:1 110:1 124:-0.7 135:1 155:-0.7 169:1 185:1 210:1 234:1 248:1 265:1 275:1 290:1 300:1 315:1 326:1 340:1 352:1 367:1",
"53:1 60:-1 70:1 79:-0.8 91:1 106:-0.8 115:1 125:-0.8 138:1 148:1 160:-0.8 176:1 186:1 196:1 206:1 222:1 235:-0.8 244:1 252:1 265:-0.8 282:1 293:1 306:1 317:1 328:-0.8 340:1 349:1 370:-0.8",
"51:-0.8 55:1 73:1 78:-1 92:1 97:-0.8 106:1 122:1 133:-0.8 140:1 150:1 166:-1 172:1 182:-0.8 194:1 205:-0.8 221:1 229:1 246:1 250:1 258:-0.8 279:1 286:1 296:-0.8 304:1 317:1 330:1 345:1 355:-0.8 370:1",
"54:1 66:1 78:1 91:1 105:1 115:1 128:1 141:1 152:1 162:1 175:1 187:1 205:1 215:1 222:1 235:1 250:1 263:1 280:1 295:1 312:1 330:1 340:1 355:1 371:1",
"50:1 58:1 70:-1 77:1 93:1 101:1 114:-0.8 128:1 140:-0.8 150:1 160:-0.8 172:1 185:-1 203:-0.8 212:1 220:1 232:-0.8 240:1 249:1 256:1 268:1 282:-0.8 293:1 312:-0.8 325:1 338:1 350:1 360:1",
"56:1 66:-1 72:1 82:1 90:1 108:1 118:-0.8 128:1 140:1 158:-1 170:1 184:-0.8 192:1 204:-1 214:1 226:1 238:1 248:-0.8 255:1 270:-1 285:1 297:-1 310:1 325:-1 340:1 352:-0.8 364:1",
"49:1 58:-0.8 65:1 74:1 84:-1 92:1 111:-0.8 119:1 127:1 142:1 155:1 165:-0.8 173:1 182:-0.8 195:1 206:1 216:1 226:-0.8 238:1 253:1 266:1 280:1 295:1 309:-0.8 326:1 340:1 353:-0.8 368:1",
"49:1 58:1 77:-0.8 85:1 94:1 103:-1 115:1 127:1 140:1 150:-0.8 160:1 174:1 182:-0.8 195:1 205:1 215:1 227:-1 238:-0.8 251:1 266:1 278:1 296:1 309:-0.8 325:1 337:1 350:1 366:1",
"47:-1 55:1 65:-1 75:1 84:-1 92:1 102:-0.8 115:1 125:1 133:-1 142:-0.8 152:1 164:1 178:1 190:-0.8 195:1 205:-1 215:1 228:1 238:-0.8 250:1 262:1 276:1 285:-0.8 296:1 308:1 321:-1 338:1 350:1 358:-1 368:1",
"53:1 66:-0.8 76:1 84:-0.7 97:1 110:1 124:-0.8 137:1 148:1 160:-0.8 176:1 186:-0.8 196:1 212:1 225:-0.8 236:1 250:1 257:-0.8 270:1 280:1 296:-0.8 310:1 326:1 336:-0.7 352:1 367:1",
"52:1 60:-1 70:1 77:1 92:1 99:-1 111:1 122:-1 133:1 143:-1 152:1 166:1 176:-1 183:1 197:1 209:-1 222:1 233:1 247:-1 256:1 264:-1 276:1 285:1 295:-1 306:1 318:-1 328:1 340:1 352:-1 360:1 371:1",
"44:-1 52:1 60:-1 76:1 85:-1 94:1 105:-1 115:1 125:-1 137:1 150:-1 165:1 175:1 183:-1 198:-1 207:1 220:-1 238:1 250:-1 262:1 275:-1 286:-1 293:1 304:1 318:1 333:-1 344:1 358:-1 366:1",
"50:1 59:1 74:-1 85:1 93:-1 104:1 113:-1 125:-1 134:1 151:1 162:-1 176:1 186:1 197:1 205:-1 216:1 228:-1 240:-1 253:1 266:-1 274:1 286:1 301:-1 315:1 327:1 343:-1 354:1 365:-0.8",
"68:1 78:-0.8 92:-1 105:-0.8 121:1 127:-0.8 145:1 165:-1 174:1 186:-1 205:-0.8 220:-1 232:-1 250:1 268:-0.8 276:1 290:-1 310:1 322:-1 336:-1 348:1 364:-1",
"56:-0.7 70:1 84:1 96:1 113:1 125:-0.7 137:1 152:1 168:-0.7 182:1 194:1 203:1 213:1 228:1 240:1 258:1 273:1 296:1 310:1 322:1 345:1 356:1 369:-0.7",
"53:1 62:-1 72:1 82:-0.8 92:1 102:-1 112:1 125:1 138:1 150:1 160:1 172:-1 185:1 201:1 213:-1 222:1 232:1 243:-1 255:1 273:-1 286:1 291:1 312:1 325:-1 337:1 350:-1 361:1"
];
const colorbarLevels = ["13","12.5","12","11.5","11","10.5","10","9.5","9","8.5","8","7.5","7","6.5","6","5.5","5","4.5","4","3.5","3","2.5","2","1.5","1","0.5","0","-0.5","-1","-1.5","-2","-2.5","-3","-3.5","-4","-4.5","-5","-5.5","-6","-6.5","-7","-7.5","-8","-8.5","-9","-9.5","-10","-10.5","-11","-11.5","-12","-12.5","-13"];

type Tree = number | [number, Tree, Tree];
const dendroTop: Tree = [75.7,[65.3,0,[53.3,1,2]],[69,3,[57.7,4,[45,5,6]]]];
const dendroRows7: Tree = [73.7,[65,7,[54,8,9]],[70.3,10,[67.3,11,[63,12,13]]]];
const dendroRows14: Tree = [59.3,14,[52.7,15,[47.7,16,[40.3,[37,17,18],[38.7,19,[26,20,[22.7,21,22]]]]]]];
const dendroRows23: Tree = [63,[53,[42.7,23,[35,24,25]],[44.7,26,[29.7,27,28]]],[55.3,29,[51.3,[38.3,30,31],[43.3,32,[42,33,[28.3,34,35]]]]]];
const dendroRows36: Tree = [71,36,[63,37,[59.3,[50.3,38,[42.7,39,40]],[55.3,41,42]]]];
const dendroRows43: Tree = [74.3,[67,43,44],[68,[58.7,45,46],[64.3,[61,47,[57,48,49]],[63,50,[54.3,51,[51.3,52,53]]]]]];
const dendroRows54: Tree = [75.7,[57.7,54,55],[64.3,56,[58.3,57,58]]];
const dendroRoot: Tree = [85.3,dendroTop,[80.7,[80,[79.7,dendroRows7,[77,[67.7,dendroRows14,dendroRows23],dendroRows36]],dendroRows43],dendroRows54]];

const corrGenes = ["CD40","TNFSF10","TNFRSF1B","CD274","PDCD1LG2","CD70","FASLG","CD27","TNFRSF8","CD86","PDCD1","TNFRSF17","CTLA4","ICOS","TNFSF9","TNFRSF14","CD80","TNFSF12","TNFRSF25","TNFRSF18","TNFRSF4","NGFR","TMIGD2","TNFSF13B","LTA","TNFRSF13C","TNFRSF13B","CD28","TNFSF8","CD40LG","LTB","TNF","VTCN1","TNFSF15","TNFRSF21","TNFSF4","ICOSLG","TNFRSF10C","EDAR","TNFRSF11A","EDA","TNFSF13","TNFRSF9","TNFRSF19","EDA2R","FAS","TNFRSF1A","LTBR","TNFRSF11B","TNFRSF12A","RELT","CD276","TNFSF11","TNFRSF10D","TNFRSF10B","TNFRSF10A","TNFSF14","HHLA2","TNFSF18"];
// Upper triangle, one string per row, starting right of the diagonal: digit = r in tenths, x = crossed out; a short row ends in crosses.
const corrRows = [
"1322x2333x233x332x11x133x2333xxxxxxxxxxxx1xxxxxxxxx2xxxxxx1",
"xxxxxxxxxxxxxxxxxxxxxxxx111xxxxxxxxxxxxxxxxxxxxxxxxxxxxxx",
"342434432232312xxxx23332233xxxxxxxxxxxxxx1xxxx2xxxx5xxxxxx",
"8566778766xx621xxx12432333xxxxxxxxxxxxxx1xxxx2xxxx5xxxxx2",
"555766443xx522xxx112xx223xxxxxxxxxxxxxx1xxxx2xxxx4xxxxxx",
"5455x233xx322xxx123xx1x1xxxxxxxxxxxxx1xxxx2xxxx4xxxxxx",
"9977677xx53431x366456551xxxxxxxxxxx1xxxxxxxxx5x2xxxx2",
"877788xx53432x177556761xxxxxxxxxxx1xxxxxxxxx5x2xxxx2",
"7577611 53432x345334541xxxxxxxxxx1xxxxxxxxx5x2xxxx1".replace(" ",""),
"367712821 11x267234711xxxxxxxxx1xxxxxxxxx6x2xxxx1".replace(" ",""),
"346xx422x1x233323131xxxxxxxxx1xxxxxxxxx3xxxxxxx1",
"66x232321x578977671xxxxxxx1xxxxxxxxx4x2xxxxxx1",
"9x134223x355647661xxxxxx1xxxxxxxxx4x2xxxxxx1",
"x233223x278997991xxxxx1xxxxxxxxx3x2xxxxxx1",
"1x1xx1xxx1xx1xxxxxxxxxxx1xxxxxxxx2xxxxxx",
"43312x123233231xxxxx2xxxxxxx1xx3x2xxxx1",
"1112x254274531xxxx2xxxxxxxxxx5x1xxxx1",
"241x167172211xxx2xxxxxxxxxx3xxxxxx1",
"11x121212221xxx2xxxxxxxx3xxxxxxx",
"6x11x2x11x1xxxxxxxxxxxx3xxxxx1",
"x123333431xx1xxxxxxxx3xxxxx1",
"322334432xxxxxxxxxx2xxxxxx1",
"55466643x1xx1xxxx2x3xx1",
"7776673xx1xxxxxx3xxxx1",
"867672xx1xxxxx3xxxx1",
"87762x1xxxxx3xxxx1",
"7772xxxxx2xxxxx1",
"8831xxxx2xxxx1",
"82xxxx2xxxx1",
"3xxx1xx2x",
"5432xx2xxxxxxxxx2xxxx3",
"43x2xxxx1xxxxxxxxx3",
"3221xx1xx1xxxx2xxx3",
"4xx32x2x2x2xxxx3x2",
"22x3x2x2x3xx3xx3x2",
"x22xx3x2x4xxx3xx2",
"32x2x2xx3x2xxx3x2",
"343xx2x3x2x2xx3xx",
"53x2x2x3xxx3x2x2",
"42x3x1xxx3x2xx3",
"4x2x3xx3x3xxx2",
"x2x3xx2x3x3xx2",
"344xx3x2x3xx3",
"3xx2xx3xx2",
"6xxxx3x2x2",
"xx3x2xxx2",
"6x3xx2x2xx2",
"x232xx2xx2",
"22322xx2xx2",
"34x1xx3x2",
"5xx2x2x2",
"xx2xx",
"xx2x2x",
"55312",
"5212",
"223",
"xx",
"x",
""
];
const corrBarLevels = [-1,-0.95,-0.9,-0.85,-0.8,-0.75,-0.7,-0.65,-0.6,-0.55,-0.5,-0.45,-0.4,-0.35,-0.3,-0.25,-0.2,-0.15,-0.1,-0.05,0,0.05,0.1,0.15,0.2,0.25,0.3,0.35,0.4,0.45,0.5,0.55,0.6,0.65,0.7,0.75,0.8,0.85,0.9,0.95];

const nodeNames = ["TNFRSF4","PDCD1","PDCD1LG2","B7RP1","TNFSF4","CD80","CD274","TNFSF18","HHLA2","TMIGD2","TNFRSF9","TNFSF9","CTLA4","CD28","ICOS","EDA2R","EDA","CD86","CD276","RELT","EDAR","TNFRSF19","CD40","CD40LG","TNF","NGFR","VTCN1","TNFRSF13C","TNFSF13B","TNFRSF12A","TNFSF12","TNFRSF1B","TNFRSF1A","TNFRSF10A","TNFRSF10B","TNFRSF21","TNFRSF13B","TNFRSF17","TNFRSF14","FASLG","TNFRSF25","LTA","TNFSF13","FAS","TNFSF15","TNFRSF11A","LTBR","TNFRSF6B","TNFSF14","TNFSF11","LTB","TNFRSF11B","TNFRSF18","TNFSF8","TNFRSF8","CD70","CD27","TNFSF10","TNFRSF10D","TNFRSF10C"];
const nodeX = [1292,1345,1422,1472,1266,1298,1405,1579,1519,1558,1249,1279,1446,1402,1495,1514,1575,1317,1440,1528,1593,1301,1384,1462,1500,1348,1289,1327,1409,1592,1704,1448,1556,1619,1678,1745,1288,1404,1515,1623,1695,1435,1345,1558,1671,1378,1484,1617,1540,1420,1477,1481,1640,1675,1617,1672,1612,1639,1696,1682];
const nodeY = [600,608,602,627,647,673,656,637,659,689,701,732,711,726,703,736,733,757,749,774,773,794,798,789,824,821,852,855,846,811,825,870,863,857,870,877,911,905,915,912,909,931,935,947,948,965,962,980,1004,1012,1012,1041,615,641,662,682,705,746,746,788];
const nodeHues = ["#d6cf9c","#3fa24f","#9aa3dc","#d6c39a","#7cc97c","#8fcf85","#deb59a","#d89a9a","#7fb3d4","#d9b48f","#7fd3cf","#c5c98e","#88d3a3","#b5e0a0","#7fd3cb","#85d8ad","#7cc1d0","#7fcfa8","#86c9df","#6fc9a6","#c4d483","#a09a2f","#98dd93","#e0cfa3","#b4d47f","#b2d684","#8ad4d6","#8fcbe0","#3a3fa0","#9a9fdf","#b8d67e","#62c9a6","#1e9e8e","#83d8a5","#e2474a","#86cfc6","#79d4a8","#84b8e0","#d97a7a","#ddb1a2","#8ad685","#e0a096","#6bb8dd","#c6c98a","#6c93c9","#aad694","#bcd494","#d9ad8c","#6bc47a","#8fa8d8","#7a82c4","#96aad8","#7f6cbc","#5fc09a","#8fd98f","#cdbb7a","#d9b98a","#b8c97a","#c5cf8a","#74c7d6"];
// Each edge: from, to, evidence channels (c curated, m experimental, y text mining, k co-expression, p homology).
const networkEdges: [string,string,string][] = [
["TNFRSF4","TNFSF4","cmyk"],["PDCD1","PDCD1LG2","mkyp"],["PDCD1","CD274","cmyk"],["PDCD1LG2","CD274","cmp"],["PDCD1LG2","CD80","myk"],["CD80","PDCD1","myk"],["CD80","CD274","cmykp"],["CD80","CTLA4","cmyk"],["CD80","CD28","cmyk"],["CD80","CD86","cmyp"],["CD80","CD40","ky"],["CD80","TNFSF9","ky"],["TNFRSF9","TNFSF9","cmy"],["TNFRSF4","CD28","ky"],["TNFRSF4","CTLA4","ky"],["CD274","CD28","ky"],["CD274","CTLA4","mky"],["B7RP1","CD28","cy"],["B7RP1","CTLA4","cy"],["B7RP1","ICOS","cmy"],["CD28","CTLA4","cmky"],["CD28","CD86","cmyykc"],["CD28","CD276","ky"],["CD28","CD40","ky"],["CTLA4","CD276","ky"],["CTLA4","CD40","ky"],["CD276","CD40","ky"],["CD276","CD40LG","y"],["ICOS","CD40LG","cy"],["CD86","CD40","ky"],["CD40","CD40LG","cmyk"],["CD40","TNF","cyk"],["CD40","TNFSF13B","cky"],["CD40LG","TNF","cky"],["CD40LG","TNFSF13B","cky"],["TNFSF13B","TNF","cyk"],["TNFSF13B","TNFRSF13C","cmyk"],["TNFSF13B","TNFRSF13B","cmy"],["TNFSF13B","TNFRSF17","cmy"],["TNFRSF13C","TNFRSF13B","ky"],["TNFRSF13C","TNFRSF17","ky"],["TNFRSF13B","TNFRSF17","ky"],["TNFRSF13B","TNFSF13","cmy"],["TNFSF13","TNFRSF17","cmy"],["TNF","TNFRSF12A","cy"],["TNF","TNFRSF1B","cmyk"],["TNF","TNFRSF1A","cmyk"],["TNF","LTA","cmykp"],["TNF","LTBR","cmy"],["TNF","TNFRSF14","ky"],["TNF","TNFRSF10A","my"],["TNFRSF1B","TNFRSF1A","cmyk"],["TNFRSF1B","LTA","cmy"],["TNFRSF1A","LTA","cmyk"],["TNFRSF1A","FAS","cmyk"],["TNFRSF1A","FASLG","my"],["LTA","TNFRSF14","cmyk"],["LTA","LTBR","cm"],["LTA","LTB","cmykp"],["LTBR","LTB","cy"],["LTBR","TNFSF14","cmy"],["TNFRSF14","TNFSF14","cmky"],["TNFSF14","TNFRSF6B","cmy"],["FAS","FASLG","cmy"],["FASLG","TNFRSF10B","cm"],["FASLG","TNFRSF10A","cy"],["FASLG","TNFRSF6B","cmy"],["TNFRSF6B","TNFSF15","mky"],["TNFSF15","TNFRSF25","cmy"],["TNFRSF25","TNFRSF21","y"],["TNFRSF25","TNFSF12","cmy"],["TNFRSF12A","TNFSF12","my"],["TNFRSF12A","TNFRSF10A","my"],["TNFRSF10A","TNFRSF10B","cmkpy"],["TNFRSF10A","TNFRSF10C","cmkp"],["TNFRSF10B","TNFRSF10C","cmp"],["TNFRSF10B","TNFSF10","m"],["TNFSF10","TNFRSF10C","cmy"],["TNFSF10","TNFRSF10D","cmy"],["TNFRSF10D","TNFRSF10C","cmp"],["TNFRSF10A","TNFRSF25","y"],["TNFSF10","TNFRSF12A","y"],["TNFSF11","TNFRSF11B","cmy"],["TNFRSF11A","TNFSF11","cmy"],["HHLA2","TMIGD2","y"],["EDA","EDA2R","cmyk"],["EDA","EDAR","cmy"],["TNFSF18","TNFRSF18","cmy"],["TNFSF8","TNFRSF8","cmy"],["CD70","CD27","cmy"]
];

const legendBoxes = [
  { title: "Known Interactions", left: 1147, right: 1422, titleX: 1155, a: 1172, b: 1211, textX: 1236, items: [["from curated databases","#2bb3d9"],["experimentally determined","#c81fd0"]] },
  { title: "Predicted Interactions", left: 1433, right: 1664, titleX: 1440, a: 1459, b: 1496, textX: 1520, items: [["gene neighborhood","#22b522"],["gene fusions","#e8222a"],["gene co-occurrence","#1a1ad8"]] },
  { title: "Others", left: 1674, right: 1889, titleX: 1682, a: 1702, b: 1738, textX: 1763, items: [["textmining","#b7cc22"],["co-expression","#222222"],["protein homology","#9c9cf2"]] },
];
const legendRowY = [1113, 1144, 1175];

const SANS = "'Liberation Sans', Arial, sans-serif";
const edgeColor: Record<string,string> = { c: "#2bb9d9", m: "#d23ad9", y: "#c7d64f", k: "#3a3a3a", p: "#a9a9ee" };
const glyph = "path://M3 1C6 0 8 2 6 4C4 6 1 5 2 8C3 11 7 9 8 7L9 9C7 12 2 13 1 9C0 6 3 4 5 3C6 2 5 2 3 2Z";

function mix(v: number, lim: number) {
  const t = Math.max(-1, Math.min(1, v / lim));
  const c = Math.round(255 * (1 - Math.abs(t)));
  return t >= 0 ? `rgb(255,${c},${c})` : `rgb(${c},${c},255)`;
}

function buildHeat() {
  const out: number[][] = [];
  heatStripes.forEach((row, r) => {
    const cells = new Map<number, number>();
    const read = (text: string) => text.split(" ").filter(Boolean).forEach((tok) => {
      const i = tok.lastIndexOf(":");
      const range = tok.slice(0, i).split("-");
      const v = Number(tok.slice(i + 1));
      const a = Number(range[0]);
      const b = range.length > 1 ? Number(range[1]) : a;
      for (let c = a; c <= b; c++) cells.set(c, v);
    });
    read(heatWash[r] || "");
    read(row);
    cells.forEach((v, c) => out.push([c, r, v]));
  });
  return out;
}

function buildDendro() {
  const pts: any[] = [];
  const walk = (n: Tree): { h: number; y: number } => {
    if (typeof n === "number") return { h: 0, y: n };
    const l = walk(n[1]);
    const r = walk(n[2]);
    pts.push([l.h, l.y], [n[0], l.y], [n[0], r.y], [r.h, r.y], ["-", "-"]);
    return { h: n[0], y: (l.y + r.y) / 2 };
  };
  walk(dendroRoot);
  return pts;
}

function buildCorr() {
  const cells: number[][] = [];
  const crosses: number[][] = [];
  const diag: number[][] = [];
  corrGenes.forEach((_, i) => {
    diag.push([i, i, 1]);
    const row = corrRows[i] || "";
    for (let c = i + 1; c < corrGenes.length; c++) {
      const ch = row[c - i - 1] || "x";
      if (ch === "x") {
        crosses.push([c, i, 0.05]);
      } else {
        cells.push([c, i, Number(ch) / 10]);
      }
    }
  });
  return { cells, crosses, diag };
}

function buildGraphic() {
  const g: any[] = [];
  const letter = (text: string, x: number, y: number) => ({ type: "text", style: { text, x, y, fontFamily: "'Liberation Serif', serif", fontSize: 62, fill: "#000" } });
  g.push(letter("A", 5, 30), letter("B", 1198, 30), letter("C", 1197, 548));
  g.push({ type: "text", style: { text: "Type", x: 1111, y: 102, fontFamily: SANS, fontWeight: "bold", fontSize: 16, fill: "#000" } });
  g.push({ type: "rect", shape: { x: 1111, y: 122, width: 23, height: 23 }, style: { fill: "#00dcdc" } });
  g.push({ type: "rect", shape: { x: 1111, y: 145, width: 23, height: 23 }, style: { fill: "#fb8f88" } });
  g.push({ type: "text", style: { text: "N", x: 1139, y: 125, fontFamily: SANS, fontSize: 16, fill: "#000" } });
  g.push({ type: "text", style: { text: "T", x: 1139, y: 148, fontFamily: SANS, fontSize: 16, fill: "#000" } });
  g.push({ type: "rect", shape: { x: 1145, y: 1063, width: 748, height: 141 }, style: { fill: "#f7f6f3" } });
  legendBoxes.forEach((b) => {
    g.push({ type: "rect", shape: { x: b.left, y: 1066, width: b.right - b.left, height: 134, r: 3 }, style: { fill: "#f5f4f0", stroke: "#dcdcd8", lineWidth: 1 } });
    g.push({ type: "text", style: { text: b.title, x: b.titleX, y: 1075, fontFamily: "Roboto, sans-serif", fontSize: 15.8, fill: "#555" } });
    b.items.forEach((it, i) => {
      const y = legendRowY[i];
      g.push({ type: "line", shape: { x1: b.a, y1: y, x2: b.b, y2: y }, style: { stroke: it[1], lineWidth: 3 } });
      [b.a, b.b].forEach((x) => {
        g.push({ type: "circle", shape: { cx: x, cy: y, r: 8.5 }, style: { fill: new echarts.graphic.RadialGradient(0.5, 0.35, 0.7, [{ offset: 0, color: "#ffffff" }, { offset: 0.6, color: "#d5d5d5" }, { offset: 1, color: "#8f8f8f" }]), stroke: "#8a8a8a", lineWidth: 1 } });
      });
      g.push({ type: "text", style: { text: it[0], x: b.textX, y, verticalAlign: "middle", fontFamily: "Roboto, sans-serif", fontStyle: "italic", fontSize: 15, fill: "#8a8a8a" } });
    });
  });
  return g;
}

function buildOption() {
  const samples = Array.from({ length: normalCount + tumorCount }, (_, i) => String(i));
  const typeCells = samples.map((_, i) => [i, 0, i < normalCount ? 0 : 1]);
  const corr = buildCorr();
  const nodePoints = nodeNames.map((n, i) => ({
    value: [nodeX[i], nodeY[i]],
    name: n,
    itemStyle: {
      color: new echarts.graphic.RadialGradient(0.45, 0.32, 0.72, [
        { offset: 0, color: echarts.color.lift(nodeHues[i], -0.45) },
        { offset: 0.45, color: nodeHues[i] },
        { offset: 0.9, color: echarts.color.lift(nodeHues[i], 0.12) },
        { offset: 1, color: echarts.color.lift(nodeHues[i], 0.45) },
      ]),
      borderColor: echarts.color.lift(nodeHues[i], 0.5),
      borderWidth: 1.2,
    },
  }));
  const nodeIndex = (n: string) => nodeNames.indexOf(n);
  const edgeData = networkEdges.map((e) => [nodeX[nodeIndex(e[0])], nodeY[nodeIndex(e[0])], nodeX[nodeIndex(e[1])], nodeY[nodeIndex(e[1])]]);

  const hiddenAxis = { show: false };
  const grids = [
    { left: 87, top: 105, width: 838, height: 17 },
    { left: 87, top: 126.5, width: 838, height: 901.5, show: true, backgroundColor: "#fbf9fe", borderWidth: 0 },
    { left: 0, top: 126.5, width: 87, height: 901.5 },
    { left: 1054, top: 103, width: 17, height: 245 },
    { left: 1316.2, top: 75.1, width: 571.7, height: 572.3 },
    { left: 1899, top: 76, width: 22, height: 572 },
    { left: 0, top: 0, width: 1959, height: 1204 },
  ];
  const xAxis: any[] = [
    { gridIndex: 0, type: "category", data: samples, ...hiddenAxis },
    { gridIndex: 1, type: "category", data: samples, ...hiddenAxis },
    { gridIndex: 2, type: "value", min: 0, max: 87, inverse: true, ...hiddenAxis },
    { gridIndex: 3, type: "category", data: ["scale"], ...hiddenAxis },
    { gridIndex: 4, type: "category", data: corrGenes, position: "top", axisLine: { show: false }, axisTick: { show: false }, splitLine: { show: false }, axisLabel: { rotate: 90, interval: 0, margin: 3, fontSize: 10.5, fontFamily: SANS, color: "#000" } },
    { gridIndex: 5, type: "value", min: 0, max: 1, ...hiddenAxis },
    { gridIndex: 6, type: "value", min: 0, max: 1959, ...hiddenAxis },
  ];
  const yAxis: any[] = [
    { gridIndex: 0, type: "category", data: ["Type"], position: "right", axisLine: { show: false }, axisTick: { show: false }, axisLabel: { margin: 4, fontSize: 16, fontWeight: "bold", fontFamily: SANS, color: "#000" } },
    { gridIndex: 1, type: "category", data: geneLabels, inverse: true, position: "right", axisLine: { show: false }, axisTick: { show: false }, splitLine: { show: false }, axisLabel: { interval: 0, margin: 4, fontSize: 16, fontFamily: SANS, color: "#000" } },
    { gridIndex: 2, type: "value", min: -0.5, max: 58.5, inverse: true, ...hiddenAxis },
    { gridIndex: 3, type: "category", data: colorbarLevels, inverse: true, position: "right", axisLine: { show: false }, axisTick: { show: false }, axisLabel: { margin: 8, fontSize: 16, fontFamily: SANS, color: "#000", interval: (_i: number, v: string) => Number(v) % 5 === 0, formatter: (v: string) => v.replace("-", "\u2212") } },
    { gridIndex: 4, type: "category", data: corrGenes, inverse: true, ...hiddenAxis },
    { gridIndex: 5, type: "value", min: -1, max: 1, interval: 0.2, position: "right", splitLine: { show: false }, axisLine: { show: true, lineStyle: { color: "#222", width: 1 } }, axisTick: { show: true, length: 5, lineStyle: { color: "#222" } }, axisLabel: { align: "center", margin: 28, fontSize: 12, fontFamily: SANS, color: "#000", formatter: (v: number) => String(Math.round(v * 10) / 10).replace("-", "\u2212") } },
    { gridIndex: 6, type: "value", min: 0, max: 1204, inverse: true, ...hiddenAxis },
  ];
  const heatCommon = { type: "heatmap", progressive: 0, silent: true, itemStyle: { borderWidth: 0 }, emphasis: { disabled: true } };
  const series: any[] = [
    { ...heatCommon, name: "Type bar", xAxisIndex: 0, yAxisIndex: 0, data: typeCells },
    { ...heatCommon, name: "Expression", xAxisIndex: 1, yAxisIndex: 1, data: buildHeat() },
    { type: "line", name: "Row dendrogram", xAxisIndex: 2, yAxisIndex: 2, data: buildDendro(), symbol: "none", connectNulls: false, silent: true, lineStyle: { color: "#2e2e2e", width: 1.4 } },
    { ...heatCommon, name: "Expression scale", xAxisIndex: 3, yAxisIndex: 3, data: colorbarLevels.map((v, i) => [0, i, Number(v)]) },
    { type: "scatter", name: "Corr cells", xAxisIndex: 4, yAxisIndex: 4, data: [...corr.cells, ...corr.crosses], progressive: 0, silent: true, symbol: "rect", symbolSize: 9.7, itemStyle: { color: "#e9e9e9", borderColor: "#cfcfcf", borderWidth: 0.8 }, z: 2 },
    { type: "scatter", name: "Correlation", xAxisIndex: 4, yAxisIndex: 4, data: [...corr.cells, ...corr.crosses, ...corr.diag], progressive: 0, silent: true, symbol: "circle", symbolSize: (d: number[]) => (d[2] === 1 ? 11 : 9.5 * Math.pow(Math.abs(d[2]), 0.85)), label: { show: true, position: "inside", fontSize: 4, color: "#222", fontFamily: SANS, formatter: (p: any) => String(p.value[2]) }, z: 3 },
    { type: "scatter", name: "Not significant", xAxisIndex: 4, yAxisIndex: 4, data: corr.crosses, progressive: 0, silent: true, symbol: "path://M0 0L10 10M10 0L0 10", symbolSize: 17, itemStyle: { color: "none", borderColor: "#000", borderWidth: 1.8 }, z: 4 },
    { type: "scatter", name: "Row names", xAxisIndex: 4, yAxisIndex: 4, data: corr.diag.map((d) => [d[0], d[1]]), progressive: 0, silent: true, symbolSize: 1, itemStyle: { color: "rgba(0,0,0,0)" }, label: { show: true, position: "left", distance: 7, fontSize: 12, fontFamily: SANS, color: "#000", formatter: (p: any) => corrGenes[p.value[0]] }, z: 5 },
    { type: "custom", name: "Correlation scale", xAxisIndex: 5, yAxisIndex: 5, silent: true, data: corrBarLevels.map((v) => [0, v]), renderItem: (_p: any, api: any) => {
      const v = api.value(1);
      const a = api.coord([0, v]);
      const b = api.coord([1, v + 0.05]);
      return { type: "rect", shape: { x: a[0], y: b[1], width: b[0] - a[0], height: a[1] - b[1] + 0.5 }, style: { fill: mix(v + 0.025, 1) } };
    } },
    { type: "custom", name: "Evidence", xAxisIndex: 6, yAxisIndex: 6, silent: true, data: edgeData, z: 2, renderItem: (p: any, api: any) => {
      const a = api.coord([api.value(0), api.value(1)]);
      const b = api.coord([api.value(2), api.value(3)]);
      const ev = networkEdges[p.dataIndex][2];
      const dx = b[0] - a[0];
      const dy = b[1] - a[1];
      const len = Math.hypot(dx, dy) || 1;
      const nx = -dy / len;
      const ny = dx / len;
      const gap = 1.3;
      const children = ev.split("").map((ch, i) => {
        const o = (i - (ev.length - 1) / 2) * gap;
        return { type: "line", shape: { x1: a[0] + nx * o, y1: a[1] + ny * o, x2: b[0] + nx * o, y2: b[1] + ny * o }, style: { stroke: edgeColor[ch], lineWidth: 1 } };
      });
      return { type: "group", children };
    } },
    { type: "scatter", name: "Proteins", xAxisIndex: 6, yAxisIndex: 6, data: nodePoints, silent: true, symbolSize: 25, z: 3, label: { show: true, position: [23, -5], fontSize: 7.5, color: "#111", fontFamily: SANS, formatter: (p: any) => p.name } },
    { type: "scatter", name: "Structures", xAxisIndex: 6, yAxisIndex: 6, data: nodeNames.map((_, i) => ({ value: [nodeX[i], nodeY[i]], itemStyle: { color: echarts.color.lift(nodeHues[i], 0.5) } })), silent: true, symbol: glyph, symbolSize: 11, z: 4 },
  ];
  return {
    animation: false,
    backgroundColor: "#ffffff",
    textStyle: { fontFamily: SANS },
    grid: grids,
    xAxis,
    yAxis,
    visualMap: [
      { show: false, type: "continuous", seriesIndex: [1, 3], dimension: 2, min: -13, max: 13, inRange: { color: ["#0000ff", "#ffffff", "#ff0000"] } },
      { show: false, type: "piecewise", seriesIndex: [0], dimension: 2, pieces: [{ value: 0, color: "#00dcdc" }, { value: 1, color: "#fb8f88" }] },
      { show: false, type: "continuous", seriesIndex: [5], dimension: 2, min: -1, max: 1, inRange: { color: ["#0000ff", "#ffffff", "#ff0000"] } },
    ],
    series,
    graphic: { elements: buildGraphic() },
  };
}

export default function App() {
  const ref = useRef<HTMLDivElement>(null);
  useEffect(() => {
    document.body.style.margin = "0";
    if (!ref.current) return;
    const chart = echarts.init(ref.current, undefined, { renderer: "svg" });
    chart.setOption(buildOption() as any);
    return () => chart.dispose();
  }, []);
  return <div ref={ref} style={{ width: 1959, height: 1204, filter: "blur(0.45px)" }} />;
}
